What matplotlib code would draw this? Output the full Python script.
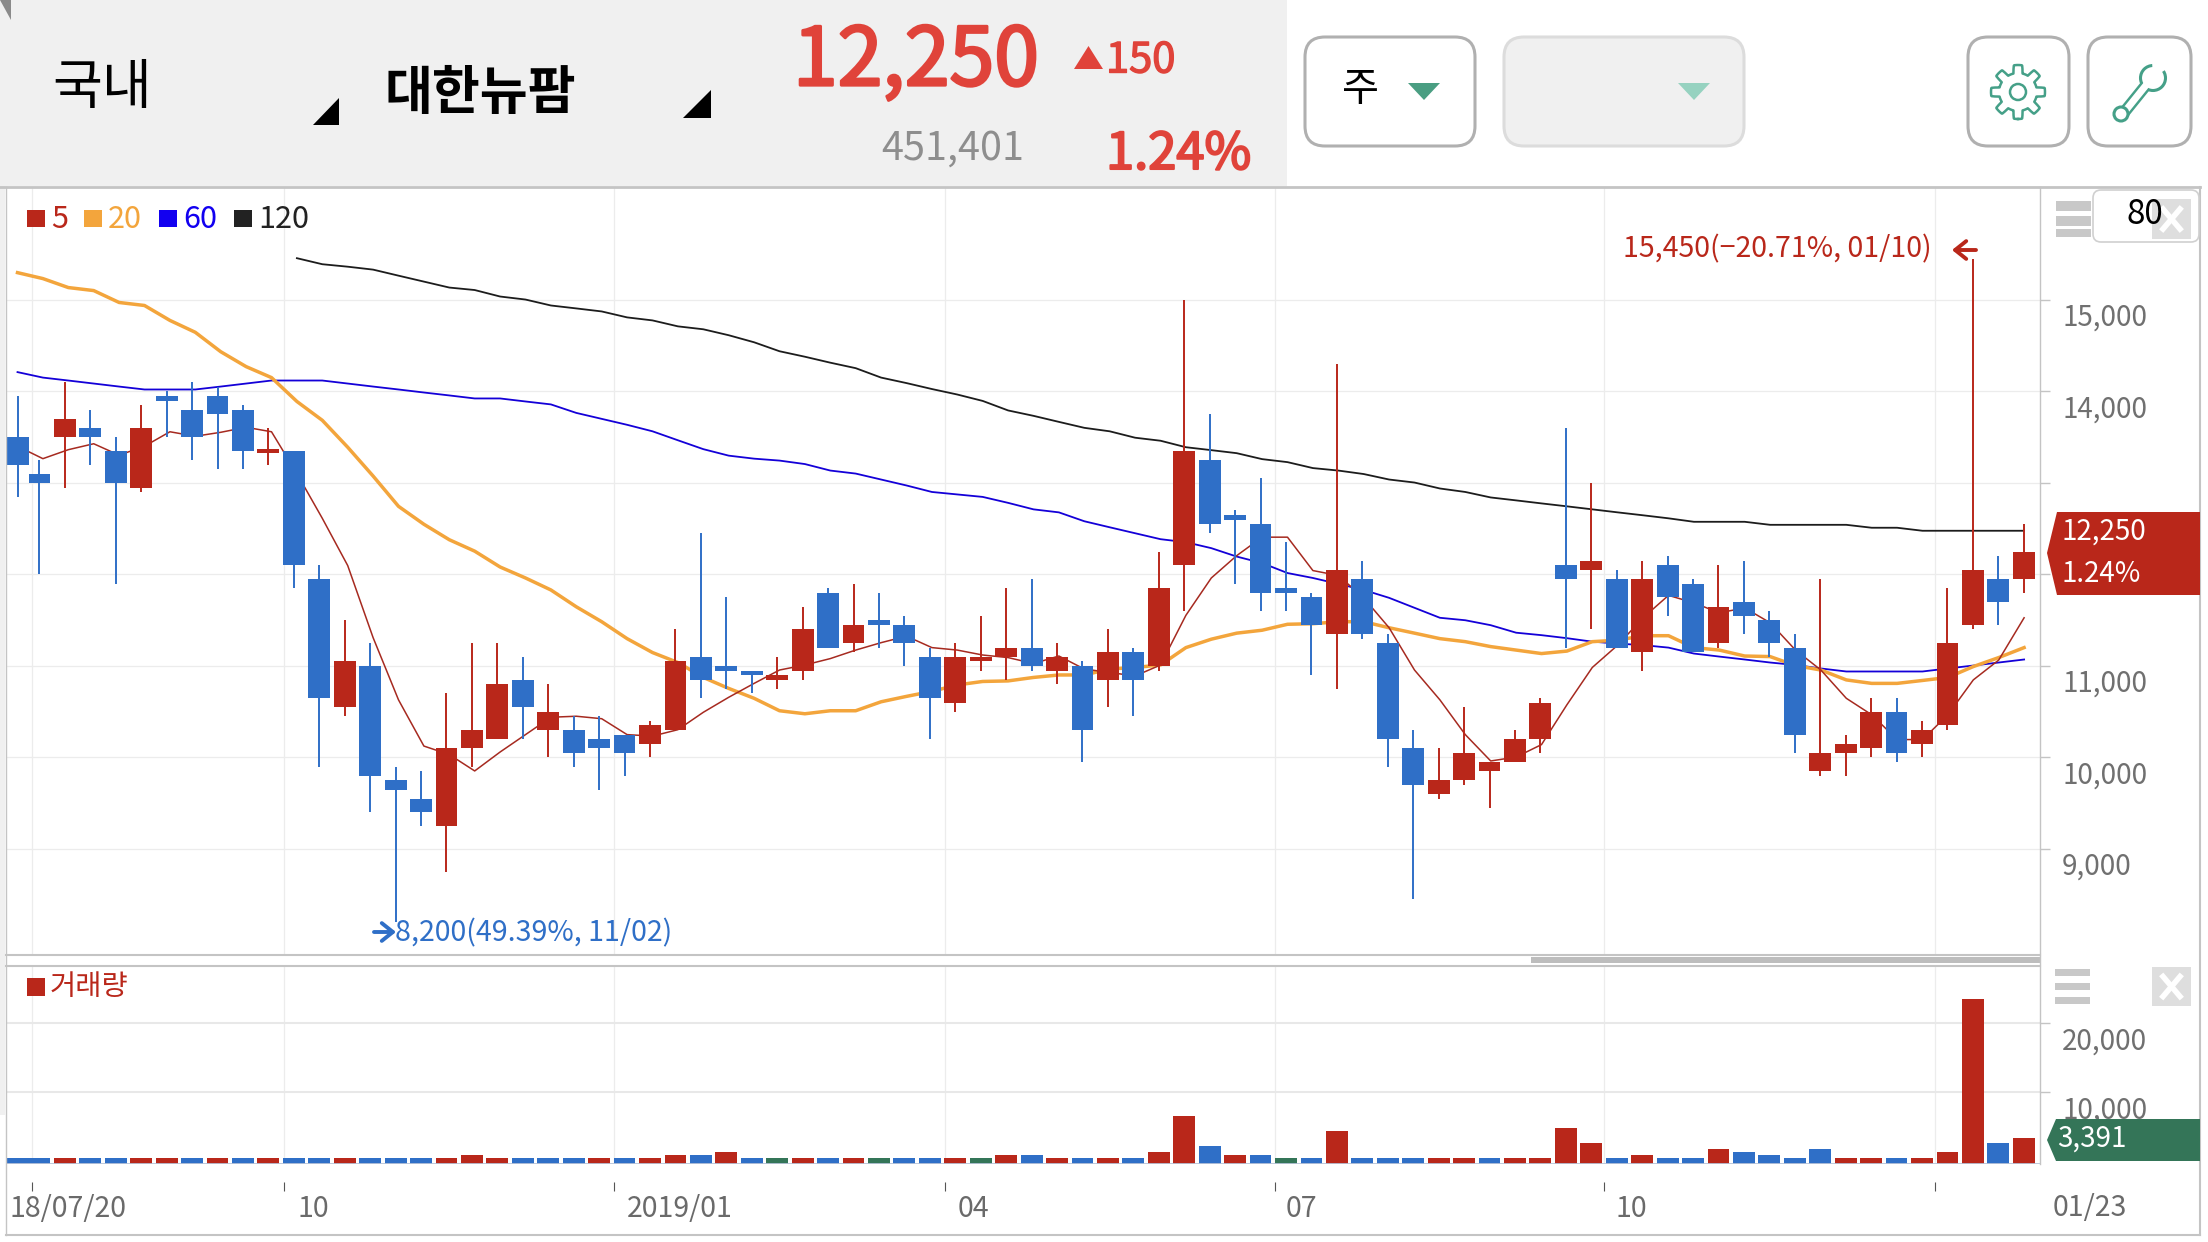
import numpy as np
import matplotlib
matplotlib.use('Agg')
import matplotlib.pyplot as plt
import matplotlib.patheffects as pe
from matplotlib.patches import Rectangle, FancyBboxPatch, Polygon, Circle
from matplotlib.transforms import ScaledTranslation

plt.rcParams['font.family'] = ['Noto Sans CJK KR', 'DejaVu Sans']

RED = '#b9271a'
BLUE = '#2f6fc7'
GREEN = '#347558'
ORANGE = '#f3a53c'
NAVY = '#1200f0'
BLACK = '#222222'
HEAD_RED = '#e0433a'
MINT = '#45a088'
LINE = '#c4c4c4'
GRID = '#ececec'

# weekly candles
candle_tops = [13500, 13100, 13700, 13600, 13350, 13600, 13950, 13800, 13950, 13800,
               13370, 13350, 11950, 11050, 11000, 9750, 9550, 10100, 10300, 10800,
               10850, 10500, 10300, 10200, 10250, 10350, 11050, 11100, 11000, 10950,
               10900, 11400, 11800, 11450, 11500, 11450, 11100, 11100, 11100, 11200,
               11200, 11100, 11000, 11150, 11150, 11850, 13350, 13250, 12650, 12550,
               11850, 11750, 12050, 11950, 11250, 10100, 9750, 10050, 9950, 10200,
               10600, 12100, 12150, 11950, 11950, 12100, 11900, 11650, 11700, 11500,
               11200, 10050, 10150, 10500, 10500, 10300, 11250, 12050, 11950, 12250]
candle_bottoms = [13200, 13000, 13500, 13500, 13000, 12950, 13900, 13500, 13750, 13350,
                  13330, 12100, 10650, 10550, 9800, 9650, 9400, 9250, 10100, 10200,
                  10550, 10300, 10050, 10100, 10050, 10150, 10300, 10850, 10950, 10900,
                  10850, 10950, 11200, 11250, 11450, 11250, 10650, 10600, 11050, 11100,
                  11000, 10950, 10300, 10850, 10850, 11000, 12100, 12550, 12600, 11800,
                  11800, 11450, 11350, 11350, 10200, 9700, 9600, 9750, 9850, 9950,
                  10200, 11950, 12050, 11200, 11150, 11750, 11150, 11250, 11550, 11250,
                  10250, 9850, 10050, 10100, 10050, 10150, 10350, 11450, 11700, 11950]
candle_highs = [13950, 13250, 14100, 13800, 13500, 13850, 14000, 14100, 14050, 13850,
                13600, 13350, 12100, 11500, 11250, 9900, 9850, 10700, 11250, 11250,
                11100, 10800, 10450, 10450, 10250, 10400, 11400, 12450, 11750, 10950,
                11100, 11650, 11850, 11900, 11800, 11550, 11200, 11250, 11550, 11850,
                11950, 11250, 11050, 11400, 11200, 12250, 15000, 13750, 12700, 13050,
                12350, 11800, 14300, 12150, 11350, 10300, 10100, 10550, 9950, 10300,
                10650, 13600, 13000, 12050, 12150, 12200, 11950, 12100, 12150, 11600,
                11350, 11950, 10250, 10650, 10650, 10400, 11850, 15450, 12200, 12550]
candle_lows = [12850, 12000, 12950, 13200, 11900, 12900, 13500, 13250, 13150, 13150,
               13200, 11850, 9900, 10450, 9400, 8200, 9250, 8750, 9900, 10200,
               10200, 10000, 9900, 9650, 9800, 10000, 10300, 10650, 10750, 10700,
               10750, 10850, 11200, 11150, 11200, 11000, 10200, 10500, 10950, 10850,
               10950, 10800, 9950, 10550, 10450, 10950, 11600, 12450, 11900, 11600,
               11600, 10900, 10750, 11300, 9900, 8450, 9550, 9700, 9450, 9950,
               10050, 11200, 11400, 11200, 10950, 11550, 11150, 11200, 11350, 11100,
               10050, 9800, 9800, 10000, 9950, 10000, 10300, 11400, 11450, 11800]
candle_red = [2, 5, 10, 13, 17, 18, 19, 21, 25, 26, 30, 31, 33, 37, 38, 39, 41, 43, 45, 46,
              52, 56, 57, 58, 59, 60, 62, 64, 67, 71, 72, 73, 75, 76, 77, 79]

ma5 = [13402, 13266, 13364, 13429, 13304, 13402, 13560, 13511, 13554, 13609,
       13560, 13103, 12614, 12098, 11310, 10630, 10125, 10032, 9853, 10060,
       10250, 10440, 10451, 10424, 10250, 10234, 10304, 10494, 10658, 10810,
       10956, 11011, 11081, 11174, 11255, 11326, 11201, 11174, 11120, 11092,
       11027, 11109, 10967, 10929, 10891, 11011, 11554, 11962, 12206, 12408,
       12408, 12043, 11989, 11745, 11418, 10956, 10630, 10250, 9962, 10005,
       10141, 10576, 10984, 11228, 11527, 11772, 11690, 11581, 11635, 11473,
       11174, 10956, 10647, 10467, 10196, 10196, 10467, 10848, 11065, 11527]
ma20 = [15299, 15234, 15136, 15103, 14973, 14940, 14777, 14647, 14435, 14272,
        14152, 13891, 13685, 13391, 13076, 12745, 12549, 12380, 12255, 12082,
        11962, 11831, 11647, 11484, 11299, 11147, 11038, 10875, 10755, 10647,
        10511, 10478, 10511, 10511, 10609, 10668, 10723, 10793, 10831, 10837,
        10875, 10902, 10902, 10967, 10984, 11011, 11201, 11293, 11359, 11391,
        11456, 11462, 11484, 11484, 11418, 11359, 11299, 11266, 11212, 11174,
        11136, 11163, 11266, 11282, 11331, 11331, 11201, 11174, 11109, 11103,
        11005, 10956, 10848, 10810, 10810, 10842, 10875, 10994, 11092, 11201]
ma60 = [14212, 14152, 14120, 14087, 14054, 14022, 14022, 14022, 14054, 14087,
        14120, 14120, 14120, 14087, 14054, 14022, 13989, 13957, 13924, 13924,
        13891, 13859, 13766, 13701, 13636, 13565, 13467, 13370, 13299, 13266,
        13245, 13207, 13136, 13103, 13038, 12973, 12902, 12875, 12848, 12783,
        12712, 12679, 12582, 12516, 12451, 12386, 12353, 12288, 12196, 12125,
        12016, 11962, 11897, 11831, 11745, 11636, 11527, 11500, 11446, 11364,
        11337, 11304, 11266, 11245, 11228, 11201, 11136, 11103, 11071, 11038,
        11011, 10973, 10940, 10940, 10940, 10940, 10973, 11005, 11038, 11071]
ma120_start = 11
ma120 = [15457, 15391, 15364, 15332, 15266, 15201, 15136, 15109, 15038, 15005,
         14940, 14908, 14875, 14810, 14777, 14712, 14680, 14615, 14538, 14440,
         14380, 14315, 14255, 14152, 14092, 14027, 13967, 13897, 13793, 13734,
         13668, 13603, 13565, 13495, 13462, 13391, 13359, 13326, 13261, 13228,
         13163, 13136, 13098, 13038, 13005, 12940, 12902, 12842, 12810, 12777,
         12745, 12712, 12679, 12647, 12614, 12576, 12576, 12576, 12543, 12543,
         12543, 12543, 12511, 12511, 12478, 12478, 12478, 12478, 12478]

volumes = [500, 500, 500, 500, 500, 500, 500, 500, 500, 500,
           500, 500, 500, 500, 500, 500, 500, 500, 900, 500,
           500, 500, 500, 500, 500, 500, 900, 900, 1350, 500,
           500, 500, 500, 500, 500, 500, 500, 500, 500, 900,
           900, 500, 500, 500, 500, 1350, 6570, 2220, 900, 900,
           500, 500, 4400, 500, 500, 500, 500, 500, 500, 500,
           500, 4830, 2660, 500, 900, 500, 500, 1800, 1350, 900,
           500, 1800, 500, 500, 500, 500, 1350, 23500, 2660, 3391]
volume_red = [2, 5, 6, 8, 10, 13, 17, 18, 19, 23, 25, 26, 28, 31, 33, 37, 39, 41, 43, 45, 46,
              48, 52, 56, 57, 59, 60, 61, 62, 64, 67, 72, 73, 75, 76, 77, 79]
volume_green = [30, 34, 38, 50]

price_ticks = [15000, 14000, 13000, 12000, 11000, 10000, 9000]
price_tick_labels = ['15,000', '14,000', '', '', '11,000', '10,000', '9,000']
volume_ticks = [10000, 20000]
volume_tick_labels = ['10,000', '20,000']
date_ticks = [0.7, 10.6, 23.6, 36.6, 49.55, 62.5, 75.5]
date_labels = ['18/07/20', '10', '2019/01', '04', '07', '10', '']
legend_items = [('5', RED, 27), ('20', ORANGE, 84), ('60', NAVY, 159), ('120', BLACK, 234)]

W, H = 2208, 1242
FIRST_PX, STEP_PX = 14, 25.44
LINE_FIRST_PX, LINE_STEP_PX = 17.5, 25.4
PANE_L, PANE_R = 6, 2040


def px_axes(x0, y0, x1, y1, zorder=1):
    return fig.add_axes([x0 / W, 1 - y1 / H, (x1 - x0) / W, (y1 - y0) / H], zorder=zorder)


def clean(ax):
    for s in ax.spines.values():
        s.set_visible(False)
    ax.set_xlim((PANE_L - FIRST_PX) / STEP_PX, (PANE_R - FIRST_PX) / STEP_PX)
    ax.grid(True, color=GRID, lw=0.9)
    ax.set_axisbelow(True)


fig = plt.figure(figsize=(W / 100, H / 100), dpi=100, facecolor='white')

# first week sits tight against the second one in the original
xs = np.arange(len(candle_tops), dtype=float)
xs[0] = 0.14
# average lines run on a slightly different grid than the candles
line_xs = (LINE_FIRST_PX + LINE_STEP_PX * np.arange(len(ma5)) - FIRST_PX) / STEP_PX
label_drop = ScaledTranslation(0, -18 / 100, fig.dpi_scale_trans)

# price pane
ax = px_axes(PANE_L, 187, PANE_R, 955)
clean(ax)
px_per_unit = 0.0915
ax.set_ylim(15000 - (955 - 300) / px_per_unit, 15000 + (300 - 187) / px_per_unit)
ax.plot(line_xs, ma60, color='#1400d8', lw=1.3, zorder=2)
ax.plot(line_xs[ma120_start:], ma120, color='#1c1c1c', lw=1.3, zorder=2)
ax.plot(line_xs, ma20, color=ORANGE, lw=2.5, zorder=2)
ax.plot(line_xs, ma5, color='#a62a20', lw=1.1, zorder=2)
colors = [RED if i in candle_red else BLUE for i in range(len(xs))]
ax.vlines(xs, candle_lows, candle_highs, colors=colors, lw=1.4, zorder=3)
ax.bar(xs, np.array(candle_tops) - np.array(candle_bottoms), bottom=candle_bottoms,
       width=0.86, color=colors, zorder=4)
ax.yaxis.tick_right()
ax.set_yticks(price_ticks, price_tick_labels, fontsize=20, color='#707070')
ax.tick_params(axis='y', length=7, width=1, color=LINE, pad=9)
ax.set_xticks(date_ticks)
ax.tick_params(axis='x', length=0, labelbottom=False)
for lab in ax.get_yticklabels():
    lab.set_va('center')
    lab.set_transform(lab.get_transform() + label_drop)

# volume pane
ax2 = px_axes(PANE_L, 966, PANE_R, 1164)
clean(ax2)
ax2.spines['bottom'].set_position(('outward', 13))
ax2.set_ylim(-386, 10000 + (1092.3 - 966) / 69 * 10000)
vol_colors = [GREEN if i in volume_green else RED if i in volume_red else BLUE for i in range(len(xs))]
ax2.bar(xs, np.array(volumes) + 386, bottom=-386, width=0.86, color=vol_colors, zorder=3)
ax2.axhline(-386, color='#b8c4d8', lw=2, zorder=4)
ax2.yaxis.tick_right()
ax2.set_yticks(volume_ticks, volume_tick_labels, fontsize=20, color='#707070')
ax2.tick_params(axis='y', length=7, width=1, color=LINE, pad=9)
ax2.yaxis.grid(True, color='#e8e8e8', lw=1.5)
for lab in ax2.get_yticklabels():
    lab.set_va('center')
    lab.set_transform(lab.get_transform() + label_drop)
ax2.set_xticks(date_ticks, date_labels, fontsize=20.5, color='#6a6a6a')
ax2.tick_params(axis='x', length=6.5, width=0.8, color='#555555', pad=2)
date_offsets = [-22, 14, 12, 13, 11, 12, 0]
for lab, off in zip(ax2.get_xticklabels(), date_offsets):
    lab.set_ha('left')
    lab.set_transform(lab.get_transform() + ScaledTranslation(off / 100, 0, fig.dpi_scale_trans))

# everything around the panes, in pixels
ui = px_axes(0, 0, W, H, zorder=5)
ui.set_xlim(0, W)
ui.set_ylim(H, 0)
ui.axis('off')
ui.patch.set_alpha(0)


def rect(x0, y0, x1, y1, color, z=2):
    ui.add_patch(Rectangle((x0, y0), x1 - x0, y1 - y0, fc=color, ec='none', zorder=z))


def txt(x, y, s, size, color='black', ha='left', weight='normal', stroke=0, z=6):
    # the CJK font sits a little high when centred
    t = ui.text(x, y + 3, s, fontsize=size, color=color, ha=ha, va='center', fontweight=weight, zorder=z)
    if stroke:
        t.set_path_effects([pe.withStroke(linewidth=stroke, foreground=color)])


def button(x0, x1, fc, ec):
    ui.add_patch(FancyBboxPatch((x0 + 18, 37 + 18), x1 - x0 - 36, 109 - 36,
                                boxstyle='round,pad=18,rounding_size=20', fc=fc, ec=ec, lw=2.2,
                                mutation_aspect=1, zorder=3))


# header
rect(0, 0, 1287, 186, '#f0f0f0')
ui.add_patch(Polygon([(0, 0), (11, 0), (11, 20)], fc='#8a8a8a', ec='none', zorder=3))
rect(0, 186, 5, 1115, '#f0f0f0')
txt(52, 85, '국내', 39)
txt(385, 90, '대한뉴팜', 37.5, weight='bold')
ui.add_patch(Polygon([(313, 125), (339, 125), (339, 98)], fc='black', ec='none', zorder=3))
ui.add_patch(Polygon([(683, 118), (711, 118), (711, 90)], fc='black', ec='none', zorder=3))
txt(793, 59, '12,250', 58, HEAD_RED, stroke=2)
ui.add_patch(Polygon([(1074, 69), (1103, 69), (1088.5, 46)], fc=HEAD_RED, ec='none', zorder=3))
txt(1106, 58, '150', 30, HEAD_RED, stroke=1)
txt(881, 146, '451,401', 28.5, '#8e8e8e')
txt(1106, 152, '1.24%', 36.5, HEAD_RED, stroke=1.5)

button(1305, 1475, 'white', '#b0b0b0')
button(1504, 1744, '#f0f0f0', '#dcdcdc')
button(1968, 2069, 'white', '#b0b0b0')
button(2088, 2191, 'white', '#b0b0b0')
txt(1360, 86, '주', 29, ha='center')
ui.add_patch(Polygon([(1408, 83), (1440, 83), (1424, 100)], fc='#4a9e82', ec='none', zorder=4))
ui.add_patch(Polygon([(1678, 83), (1710, 83), (1694, 100)], fc='#96d2c0', ec='none', zorder=4))

# gear icon
theta = np.linspace(0, 2 * np.pi, 361)
r = 23 + 4 * np.clip(3 * np.cos(8 * theta), -1, 1)
ui.plot(2018 + r * np.sin(theta), 92 + r * np.cos(theta), color=MINT, lw=1.8, zorder=4)
ui.add_patch(Circle((2018, 92), 8, fc='none', ec=MINT, lw=1.8, zorder=4))
# wrench icon
ui.plot([2122, 2147], [115, 84], color=MINT, lw=8.5, solid_capstyle='round', zorder=4)
ui.plot([2122, 2147], [115, 84], color='white', lw=5, solid_capstyle='round', zorder=5)
ui.add_patch(Circle((2121, 114), 7, fc='white', ec=MINT, lw=2.2, zorder=5))
ui.add_patch(Circle((2153, 78), 12.5, fc='white', ec=MINT, lw=2.2, zorder=4))
ui.add_patch(Polygon([(2153, 78), (2152, 61), (2168, 68)], fc='white', ec='none', zorder=5))

# pane frames
ui.plot([0, 2200], [187, 187], color=LINE, lw=2, zorder=3)
ui.plot([6, 2040], [955, 955], color=LINE, lw=1.5, zorder=3)
ui.plot([6, 2040], [966, 966], color=LINE, lw=1.5, zorder=3)
ui.plot([6, 2200], [1235, 1235], color=LINE, lw=1.5, zorder=3)
ui.plot([6, 6], [187, 1235], color=LINE, lw=1, zorder=3)
ui.plot([2040, 2040], [187, 1164], color=LINE, lw=1, zorder=3)
ui.plot([2200, 2200], [187, 1235], color=LINE, lw=1.5, zorder=3)
rect(1531, 957, 2040, 963, '#bdbdbd')

# legends
for label, color, x in legend_items:
    rect(x, 210, x + 18, 227, color)
    txt(x + 24, 216, label, 22, color)
rect(27, 978, 45, 996, RED)
txt(50, 984, '거래량', 20.5, RED)

# hamburgers and close boxes
for y0, y1 in [(201, 211), (216, 226), (229, 237)]:
    rect(2056, y0, 2091, y1, '#c8c8c8')
for y0, y1 in [(969, 976), (983, 990), (997, 1004)]:
    rect(2055, y0, 2090, y1, '#c8c8c8')
for y0, y1 in [(199, 239), (967, 1006)]:
    rect(2152, y0, 2191, y1, '#dedede', z=4)
    cy = (y0 + y1) / 2
    ui.plot([2163, 2180], [cy - 10, cy + 10], color='white', lw=4, zorder=5)
    ui.plot([2163, 2180], [cy + 10, cy - 10], color='white', lw=4, zorder=5)
ui.add_patch(FancyBboxPatch((2100, 197), 92, 38, boxstyle='round,pad=7,rounding_size=8',
                            fc='white', ec='#d0d0d0', lw=1.2, zorder=3))
txt(2126, 211, '80', 24)

# high / low annotations
txt(1623, 246, '15,450(−20.71%, 01/10)', 20.6, RED)
ui.annotate('', xy=(1952, 250), xytext=(1976, 250),
            arrowprops=dict(arrowstyle='->,head_length=0.4,head_width=0.32', color=RED, lw=2.8,
                            mutation_scale=20, shrinkA=0, shrinkB=0), zorder=6)
txt(395, 930, '8,200(49.39%, 11/02)', 20.6, BLUE)
ui.annotate('', xy=(396, 932), xytext=(374, 932),
            arrowprops=dict(arrowstyle='->,head_length=0.4,head_width=0.32', color=BLUE, lw=2.8,
                            mutation_scale=20, shrinkA=0, shrinkB=0), zorder=6)

# last price tags
ui.add_patch(Polygon([(2047, 553), (2057, 512), (2200, 512), (2200, 595), (2057, 595)],
                     fc=RED, ec='none', zorder=5))
txt(2062, 529, '12,250', 20, 'white')
txt(2062, 571, '1.24%', 20, 'white')
ui.add_patch(Polygon([(2047, 1140), (2056, 1119), (2200, 1119), (2200, 1161), (2056, 1161)],
                     fc=GREEN, ec='none', zorder=5))
txt(2057, 1136, '3,391', 20, 'white')
txt(2053, 1205, '01/23', 20.5, '#6a6a6a')

fig.savefig('out.png', dpi=100)
